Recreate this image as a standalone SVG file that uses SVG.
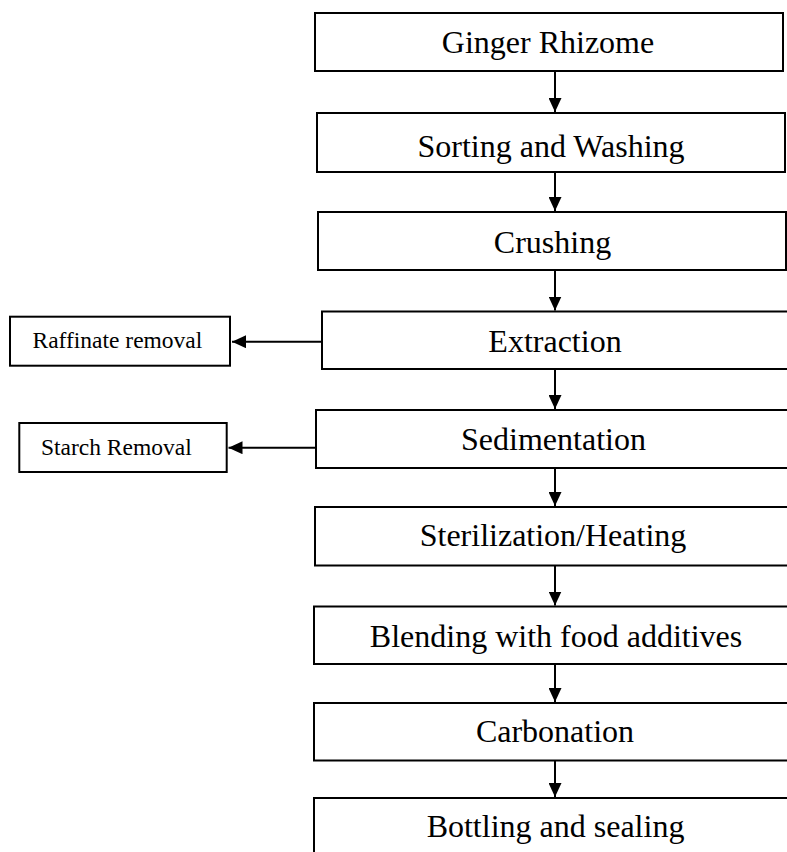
<svg xmlns="http://www.w3.org/2000/svg" width="787" height="852" viewBox="0 0 787 852">
  <style>
    .box { fill: #ffffff; stroke: #000000; stroke-width: 2; }
    .main { font-family: "Liberation Serif", "Times New Roman", serif; font-size: 32px; fill: #000000; text-anchor: middle; }
    .side { font-family: "Liberation Serif", "Times New Roman", serif; font-size: 23.5px; fill: #000000; text-anchor: middle; }
    .conn { stroke: #000000; stroke-width: 2; fill: none; }
  </style>
  <defs>
    <marker id="arrow" markerUnits="userSpaceOnUse" markerWidth="14" markerHeight="13" viewBox="0 0 14 13" refX="14" refY="6.5" orient="auto">
      <path d="M0,0 L14,6.5 L0,13 Z" fill="#000000"/>
    </marker>
  </defs>
  <rect width="787" height="852" fill="#ffffff"/>

  <g id="connectors">
    <line class="conn" x1="555" y1="71" x2="555" y2="112" marker-end="url(#arrow)"/>
    <line class="conn" x1="555" y1="172" x2="555" y2="211" marker-end="url(#arrow)"/>
    <line class="conn" x1="555" y1="270" x2="555" y2="310.5" marker-end="url(#arrow)"/>
    <line class="conn" x1="555" y1="369" x2="555" y2="409" marker-end="url(#arrow)"/>
    <line class="conn" x1="555" y1="468" x2="555" y2="506" marker-end="url(#arrow)"/>
    <line class="conn" x1="555" y1="565.5" x2="555" y2="605.5" marker-end="url(#arrow)"/>
    <line class="conn" x1="555" y1="664" x2="555" y2="702" marker-end="url(#arrow)"/>
    <line class="conn" x1="555" y1="760.5" x2="555" y2="797" marker-end="url(#arrow)"/>
    <line class="conn" x1="322" y1="341.7" x2="232" y2="341.7" marker-end="url(#arrow)"/>
    <line class="conn" x1="316" y1="447.7" x2="228.5" y2="447.7" marker-end="url(#arrow)"/>
  </g>

  <g id="ginger-rhizome">
    <rect class="box" x="315" y="13" width="468" height="58"/>
    <text class="main" x="548" y="53">Ginger Rhizome</text>
  </g>
  <g id="sorting-washing">
    <rect class="box" x="317" y="113" width="468" height="59"/>
    <text class="main" x="551" y="157">Sorting and Washing</text>
  </g>
  <g id="crushing">
    <rect class="box" x="318" y="212" width="468" height="58"/>
    <text class="main" x="552.5" y="252.7">Crushing</text>
  </g>
  <g id="extraction">
    <rect class="box" x="322" y="311.5" width="500" height="57.5"/>
    <text class="main" x="555" y="351.7">Extraction</text>
  </g>
  <g id="sedimentation">
    <rect class="box" x="316" y="410" width="500" height="58"/>
    <text class="main" x="553.5" y="450">Sedimentation</text>
  </g>
  <g id="sterilization">
    <rect class="box" x="315" y="507" width="500" height="58.5"/>
    <text class="main" x="553" y="546">Sterilization/Heating</text>
  </g>
  <g id="blending">
    <rect class="box" x="314" y="606.5" width="500" height="57.5"/>
    <text class="main" x="556" y="646.5">Blending with food additives</text>
  </g>
  <g id="carbonation">
    <rect class="box" x="314" y="703" width="500" height="57.5"/>
    <text class="main" x="555" y="742">Carbonation</text>
  </g>
  <g id="bottling">
    <rect class="box" x="314" y="798" width="500" height="100"/>
    <text class="main" x="555.5" y="837">Bottling and sealing</text>
  </g>
  <g id="raffinate-removal">
    <rect class="box" x="10" y="316.7" width="220" height="49"/>
    <text class="side" x="117.4" y="348.3">Raffinate removal</text>
  </g>
  <g id="starch-removal">
    <rect class="box" x="19.3" y="423" width="207.4" height="49"/>
    <text class="side" x="116.3" y="455">Starch Removal</text>
  </g>
</svg>
